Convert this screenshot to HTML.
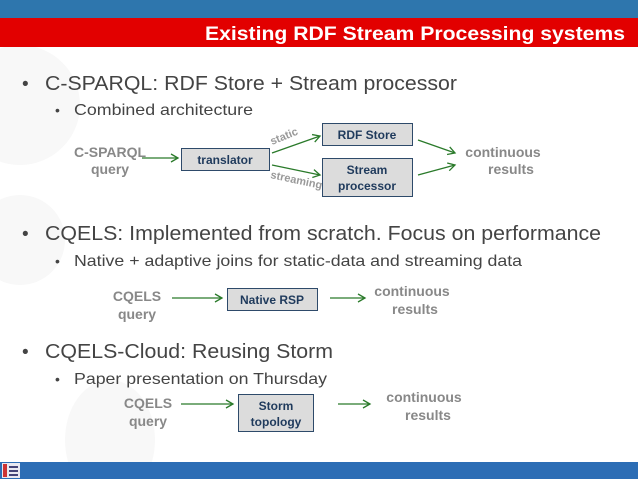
<!DOCTYPE html>
<html><head><style>body{margin:0;width:638px;height:479px;overflow:hidden;background:#fff}</style></head><body>
<svg width="638" height="479" xmlns="http://www.w3.org/2000/svg" font-family="Liberation Sans, Arial, sans-serif">
<defs><marker id="a" markerWidth="10" markerHeight="10" refX="8" refY="5" orient="auto" markerUnits="userSpaceOnUse"><path d="M1,1 L8,5 L1,9" fill="none" stroke="#2a7a2a" stroke-width="1.3"/></marker></defs>
<rect x="0" y="0" width="638" height="479" fill="#fff"/>
<circle cx="20" cy="105" r="60" fill="#f8f8f8"/>
<circle cx="20" cy="240" r="45" fill="#f8f8f8"/>
<ellipse cx="110" cy="440" rx="45" ry="60" fill="#f8f8f8"/>
<rect x="0" y="0" width="638" height="18" fill="#2e76ad"/>
<rect x="0" y="18" width="638" height="29" fill="#e20000"/>
<text x="625" y="40" text-anchor="end" fill="#fff" font-weight="bold" font-size="19" textLength="420" lengthAdjust="spacingAndGlyphs">Existing RDF Stream Processing systems</text>
<g fill="#444" lengthAdjust="spacingAndGlyphs">
<text x="22" y="90" font-size="19">•</text>
<text x="45" y="90" font-size="20" textLength="412" lengthAdjust="spacingAndGlyphs">C-SPARQL: RDF Store + Stream processor</text>
<text x="55" y="115" font-size="14">•</text>
<text x="74" y="115" font-size="16" textLength="179" lengthAdjust="spacingAndGlyphs">Combined architecture</text>
<text x="22" y="240" font-size="19">•</text>
<text x="45" y="240" font-size="20" textLength="556" lengthAdjust="spacingAndGlyphs">CQELS: Implemented from scratch. Focus on performance</text>
<text x="55" y="266" font-size="14">•</text>
<text x="74" y="266" font-size="16" textLength="448" lengthAdjust="spacingAndGlyphs">Native + adaptive joins for static-data and streaming data</text>
<text x="22" y="358" font-size="19">•</text>
<text x="45" y="358" font-size="20" textLength="288" lengthAdjust="spacingAndGlyphs">CQELS-Cloud: Reusing Storm</text>
<text x="55" y="384" font-size="14">•</text>
<text x="74" y="384" font-size="16" textLength="253" lengthAdjust="spacingAndGlyphs">Paper presentation on Thursday</text>
</g>
<g fill="#888" font-weight="bold" font-size="14" text-anchor="middle">
<text x="110" y="157">C-SPARQL</text><text x="110" y="174">query</text>
<text x="503" y="157">continuous</text><text x="511" y="174">results</text>
<text x="137" y="301">CQELS</text><text x="137" y="319">query</text>
<text x="412" y="296">continuous</text><text x="415" y="314">results</text>
<text x="148" y="408">CQELS</text><text x="148" y="426">query</text>
<text x="424" y="402">continuous</text><text x="428" y="420">results</text>
</g>
<g fill="#dcdcdc" stroke="#2e4a6a" stroke-width="1">
<rect x="181.5" y="148.5" width="88" height="22"/>
<rect x="322.5" y="123.5" width="90" height="22"/>
<rect x="322.5" y="158.5" width="90" height="38"/>
<rect x="227.5" y="288.5" width="90" height="22"/>
<rect x="238.5" y="394.5" width="75" height="37"/>
</g>
<g fill="#1f3a5c" font-weight="bold" font-size="12" text-anchor="middle">
<text x="225" y="164">translator</text>
<text x="367" y="139">RDF Store</text>
<text x="367" y="174">Stream</text><text x="367" y="190">processor</text>
<text x="272" y="304">Native RSP</text>
<text x="276" y="410">Storm</text><text x="276" y="426">topology</text>
</g>
<g stroke="#2a7a2a" stroke-width="1.3" fill="none" marker-end="url(#a)">
<line x1="142" y1="158" x2="178" y2="158"/>
<line x1="272" y1="153" x2="320" y2="136"/>
<line x1="272" y1="165" x2="320" y2="175"/>
<line x1="418" y1="140" x2="455" y2="153"/>
<line x1="418" y1="175" x2="455" y2="165"/>
<line x1="172" y1="298" x2="222" y2="298"/>
<line x1="330" y1="298" x2="365" y2="298"/>
<line x1="181" y1="404" x2="233" y2="404"/>
<line x1="338" y1="404" x2="370" y2="404"/>
</g>
<g fill="#999" font-weight="bold" font-size="11">
<text x="272" y="145" transform="rotate(-22 272 145)">static</text>
<text x="270" y="178" transform="rotate(12 270 178)">streaming</text>
</g>
<rect x="0" y="462" width="638" height="17" fill="#2c6db5"/>
<rect x="2" y="463" width="18" height="15" fill="#e8e8f0"/>
<rect x="3" y="464" width="4" height="13" fill="#c33"/>
<rect x="9" y="466" width="9" height="2" fill="#447"/><rect x="9" y="470" width="9" height="2" fill="#447"/><rect x="9" y="474" width="9" height="2" fill="#447"/>
</svg>
</body></html>
